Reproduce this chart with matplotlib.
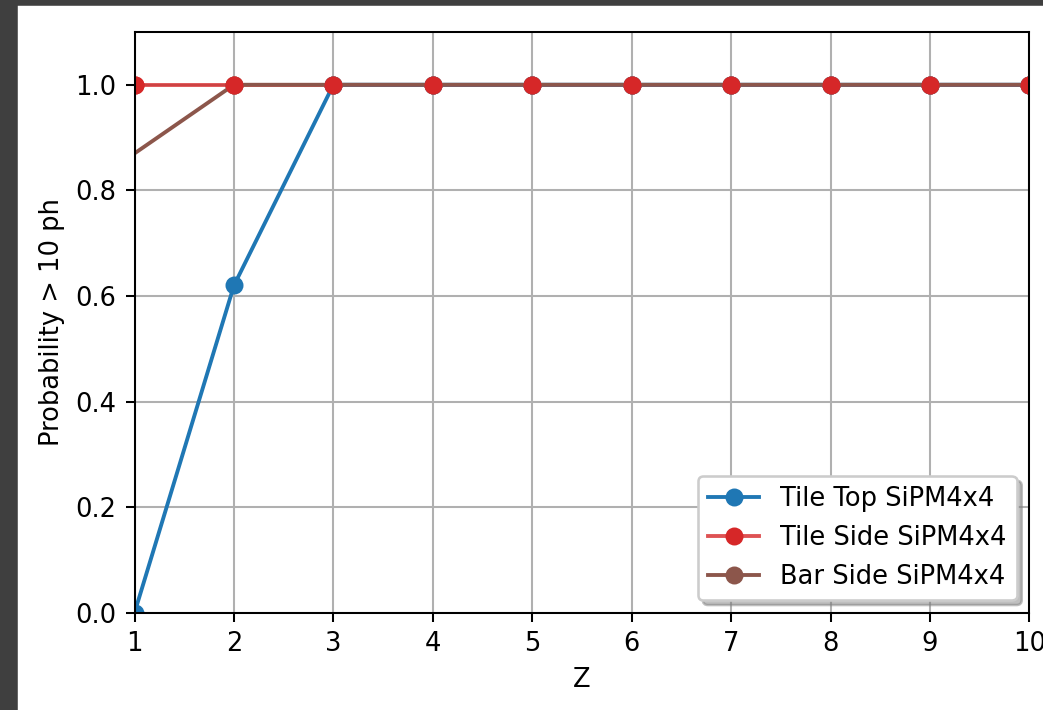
import numpy as np
import matplotlib
matplotlib.use('Agg')
import matplotlib.pyplot as plt
from matplotlib.patches import Rectangle

# Data
z = [1, 2, 3, 4, 5, 6, 7, 8, 9, 10]
tile_top = [0.0, 0.62, 1.0, 1.0, 1.0, 1.0, 1.0, 1.0, 1.0, 1.0]
tile_side = [1.0, 1.0, 1.0, 1.0, 1.0, 1.0, 1.0, 1.0, 1.0, 1.0]
z_bar = [0, 2, 3, 4, 5, 6, 7, 8, 9, 10]
bar_side = [0.74, 1.0, 1.0, 1.0, 1.0, 1.0, 1.0, 1.0, 1.0, 1.0]

dpi = 185
fig = plt.figure(figsize=(1043 / dpi, 710 / dpi), dpi=dpi)
ax = fig.add_axes([0.129, 0.137, 0.858, 0.818])

# dark screenshot frame on the top and left
fig.patches.append(Rectangle((0, 0), 16 / 1043, 1, transform=fig.transFigure,
                             color='#3f3f3f', zorder=-10))
fig.patches.append(Rectangle((0, 1 - 4 / 710), 1, 4 / 710, transform=fig.transFigure,
                             color='#3f3f3f', zorder=-10))

red = matplotlib.colors.to_rgba('tab:red')
ax.plot(z, tile_top, 'o-', color='tab:blue', label='Tile Top SiPM4x4')
ax.plot(z, tile_side, 'o-', color=(red[0], red[1], red[2], 0.8),
        markerfacecolor='tab:red', markeredgecolor='tab:red',
        label='Tile Side SiPM4x4', zorder=1.9)
ax.plot(z_bar, bar_side, 'o-', color='tab:brown', label='Bar Side SiPM4x4', zorder=2)
# red markers end up on top of the brown ones
ax.plot(z, tile_side, 'o', color='tab:red', zorder=2.5)

ax.set_xlim(1, 10)
ax.set_ylim(0, 1.1)
ax.set_xticks(z)
ax.set_xlabel('Z')
ax.set_ylabel('Probability > 10 ph')
ax.grid(True)

ax.legend(loc='lower right', shadow={'color': 'gray', 'alpha': 0.5})

fig.savefig('out.png', dpi=dpi)
